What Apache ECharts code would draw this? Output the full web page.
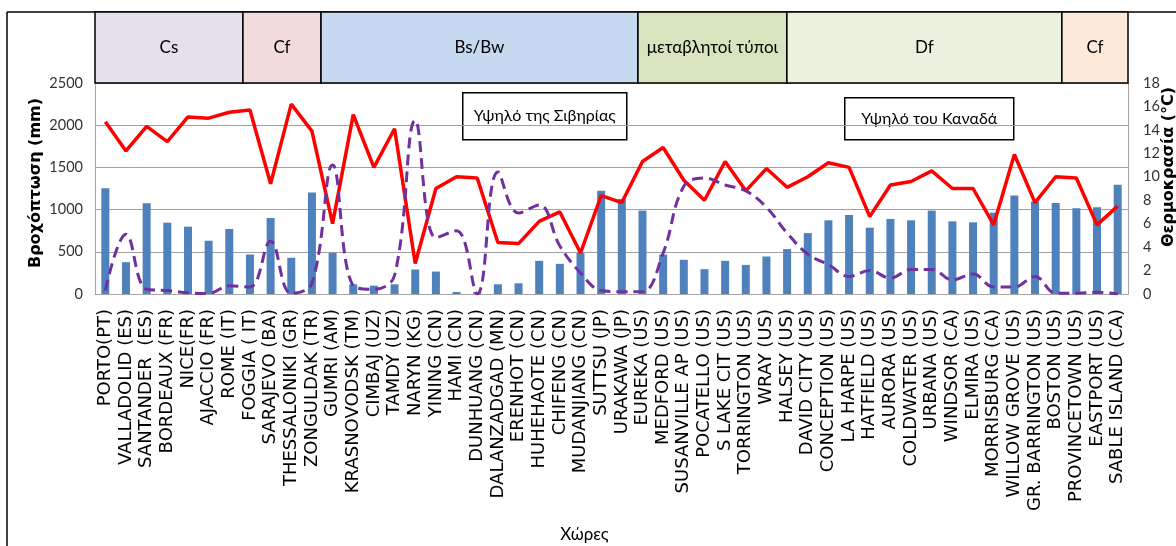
<!DOCTYPE html>
<html>
<head>
<meta charset="utf-8">
<script src="https://cdn.jsdelivr.net/npm/echarts@6/dist/echarts.min.js"></script>
<style>
html, body { margin: 0; padding: 0; background: #fff; }
#chart { width: 1176px; height: 546px; }
</style>
</head>
<body>
<div id="chart"></div>
<script>
var categories = ['PORTO(PT)', 'VALLADOLID (ES)', 'SANTANDER  (ES)', 'BORDEAUX (FR)', 'NICE(FR)',
    'AJACCIO (FR)', 'ROME (IT)', 'FOGGIA ( IT)', 'SARAJEVO (BA)', 'THESSALONIKI (GR)',
    'ZONGULDAK (TR)', 'GUMRI (AM)', 'KRASNOVODSK (TM)', 'CIMBAJ (UZ)', 'TAMDY (UZ)',
    'NARYN (KG)', 'YINING (CN)', 'HAMI (CN)', 'DUNHUANG (CN)', 'DALANZADGAD (MN)',
    'ERENHOT (CN)', 'HUHEHAOTE (CN)', 'CHIFENG (CN)', 'MUDANJIANG (CN)', 'SUTTSU (JP)',
    'URAKAWA (JP)', 'EUREKA (US)', 'MEDFORD (US)', 'SUSANVILLE AP (US)', 'POCATELLO (US)',
    'S LAKE CIT (US)', 'TORRINGTON (US)', 'WRAY (US)', 'HALSEY (US)', 'DAVID CITY (US)',
    'CONCEPTION (US)', 'LA HARPE (US)', 'HATFIELD (US)', 'AURORA (US)', 'COLDWATER (US)',
    'URBANA (US)', 'WINDSOR (CA)', 'ELMIRA (US)', 'MORRISBURG (CA)', 'WILLOW GROVE (US)',
    'GR. BARRINGTON (US)', 'BOSTON (US)', 'PROVINCETOWN (US)', 'EASTPORT (US)', 'SABLE ISLAND (CA)'];

// precipitation, mm (left axis)
var precipitation = [1254, 377, 1075, 845, 798, 631, 770, 468, 901, 429,
    1202, 488, 115, 99, 115, 290, 266, 24, 22, 115,
    127, 393, 357, 486, 1222, 1127, 988, 468, 405, 294,
    393, 345, 444, 532, 722, 873, 936, 786, 889, 873,
    988, 861, 849, 964, 1167, 1095, 1079, 1016, 1028, 1294];

// temperature, °C (right axis)
var temperature = [14.7, 12.2, 14.3, 13.0, 15.1, 15.0, 15.5, 15.7, 9.4, 16.2,
    13.9, 6.0, 15.3, 10.8, 14.1, 2.6, 9.0, 10.0, 9.9, 4.4,
    4.3, 6.2, 7.0, 3.5, 8.4, 7.8, 11.3, 12.5, 9.7, 8.0,
    11.3, 8.8, 10.7, 9.1, 10.0, 11.2, 10.8, 6.6, 9.3, 9.6,
    10.5, 9.0, 9.0, 5.9, 11.9, 7.8, 10.0, 9.9, 5.9, 7.5];

// dashed series (right axis)
var dashedValues = [0.3, 5.1, 0.4, 0.3, 0.1, 0.05, 0.7, 0.6, 4.5, 0.05,
    0.9, 11.0, 0.7, 0.4, 1.6, 14.8, 4.8, 5.4, 0, 10.4,
    6.9, 7.6, 4.1, 1.8, 0.3, 0.2, 0.2, 3.5, 9.2, 9.9,
    9.3, 8.8, 7.4, 5.2, 3.4, 2.5, 1.5, 2.0, 1.35, 2.1,
    2.1, 1.2, 1.7, 0.6, 0.6, 1.5, 0.06, 0.06, 0.14, 0];

// climate bands over the categories (in category units)
var bandNames = ['Cs', 'Cf', 'Bs/Bw', 'μεταβλητοί τύποι', 'Df', 'Cf'];
var bandFrom = [0, 7.16, 10.94, 26.28, 33.49, 46.8];
var bandTo = [7.16, 10.94, 26.28, 33.49, 46.8, 50];

var bandColors = ['#e5e0ec', '#f2dcdb', '#c6d9f1', '#d7e4bd', '#ebf1de', '#fde9d9'];
var calFont = 'Lato, "Liberation Sans", sans-serif';
var boldFont = '"DejaVu Sans", sans-serif';

var chart = echarts.init(document.getElementById('chart'));

var bandData = bandNames.map(function (n, i) { return [bandFrom[i], bandTo[i]]; });

function boxNote(x, y, w, h, text) {
    return {
        type: 'group', left: x, top: y, z: 100,
        children: [
            { type: 'rect', shape: { x: 0, y: 0, width: w, height: h },
              style: { fill: '#fff', stroke: '#000', lineWidth: 1.5 } },
            { type: 'text', x: w / 2, y: h / 2,
              style: { text: text, fontSize: 16, fontFamily: calFont, fill: '#000',
                       align: 'center', verticalAlign: 'middle' } }
        ]
    };
}

function axisTitle(x, y, text) {
    return {
        type: 'text', x: x, y: y, rotation: Math.PI / 2,
        style: { text: text, fontFamily: boldFont, fontWeight: 'bold', fontSize: 16, fill: '#000',
                 align: 'center', verticalAlign: 'middle' }
    };
}

var option = {
    animation: false,
    grid: [
        { left: 95, right: 48, top: 83, bottom: 252, outerBoundsMode: 'none' },
        { left: 95, right: 48, top: 12, height: 71, outerBoundsMode: 'none' }
    ],
    xAxis: [
        {
            type: 'category',
            gridIndex: 0,
            data: categories,
            axisLine: { lineStyle: { color: '#a6a6a6' } },
            axisTick: { show: false },
            axisLabel: {
                interval: 0, rotate: 90, margin: 15,
                fontFamily: boldFont, fontSize: 18, color: '#000'
            },
            name: 'Χώρες',
            nameLocation: 'middle',
            nameGap: 232,
            nameTextStyle: { fontFamily: calFont, fontSize: 17, color: '#000', padding: [0, 54, 0, 0] }
        },
        { type: 'value', gridIndex: 1, min: 0, max: 50, show: false }
    ],
    yAxis: [
        {
            type: 'value', gridIndex: 0, min: 0, max: 2500, interval: 500,
            axisLine: { show: true, lineStyle: { color: '#a6a6a6' } },
            axisTick: { show: false },
            axisLabel: { fontFamily: calFont, fontSize: 14.5, color: '#333', margin: 12,
                         formatter: function (v) { return String(v); } },
            splitLine: { lineStyle: { color: '#a0a0a0', width: 1.2 } }
        },
        {
            type: 'value', gridIndex: 0, min: 0, max: 18, interval: 2, position: 'right',
            axisLine: { show: true, lineStyle: { color: '#a6a6a6' } },
            axisTick: { show: false },
            axisLabel: { fontFamily: calFont, fontSize: 14.5, color: '#333', margin: 15 },
            splitLine: { show: false }
        },
        { type: 'value', gridIndex: 1, min: 0, max: 1, show: false }
    ],
    series: [
        {
            name: 'Βροχόπτωση',
            type: 'bar',
            xAxisIndex: 0, yAxisIndex: 0,
            data: precipitation,
            barWidth: 8,
            itemStyle: { color: '#4f81bd' }
        },
        {
            name: 'Θερμοκρασία',
            type: 'line',
            xAxisIndex: 0, yAxisIndex: 1,
            data: temperature,
            symbol: 'none',
            lineStyle: { color: '#ff0000', width: 3.5 }
        },
        {
            name: 'dashed',
            type: 'line',
            xAxisIndex: 0, yAxisIndex: 1,
            data: dashedValues,
            symbol: 'none',
            smooth: 0.4,
            lineStyle: { color: '#7030a0', width: 3, type: [11, 6] }
        },
        {
            type: 'custom',
            xAxisIndex: 1, yAxisIndex: 2,
            data: bandData,
            renderItem: function (params, api) {
                var p0 = api.coord([api.value(0), 1]);
                var p1 = api.coord([api.value(1), 0]);
                var i = params.dataIndex;
                return {
                    type: 'group',
                    children: [
                        { type: 'rect',
                          shape: { x: p0[0], y: p0[1], width: p1[0] - p0[0], height: p1[1] - p0[1] },
                          style: { fill: bandColors[i], stroke: '#000', lineWidth: 1.5 } },
                        { type: 'text',
                          x: (p0[0] + p1[0]) / 2, y: (p0[1] + p1[1]) / 2,
                          style: { text: bandNames[i], fontSize: 17, fontFamily: calFont,
                                   fill: '#000', align: 'center', verticalAlign: 'middle' } }
                    ]
                };
            }
        }
    ],
    graphic: [
        { type: 'line', shape: { x1: 7, y1: 12, x2: 1176, y2: 12 }, style: { stroke: '#000', lineWidth: 1.5 } },
        { type: 'line', shape: { x1: 7, y1: 12, x2: 7, y2: 546 }, style: { stroke: '#000', lineWidth: 1.5 } },
        boxNote(462, 92, 164, 47, 'Υψηλό της Σιβηρίας'),
        boxNote(844, 97, 169, 42, 'Υψηλό του Καναδά'),
        axisTitle(36, 183, 'Βροχόπτωση (mm)'),
        axisTitle(1169, 167, 'Θερμοκρασία (°C)')
    ]
};

chart.setOption(option);

window.addEventListener('resize', function () {
    chart.resize();
});
</script>
</body>
</html>
